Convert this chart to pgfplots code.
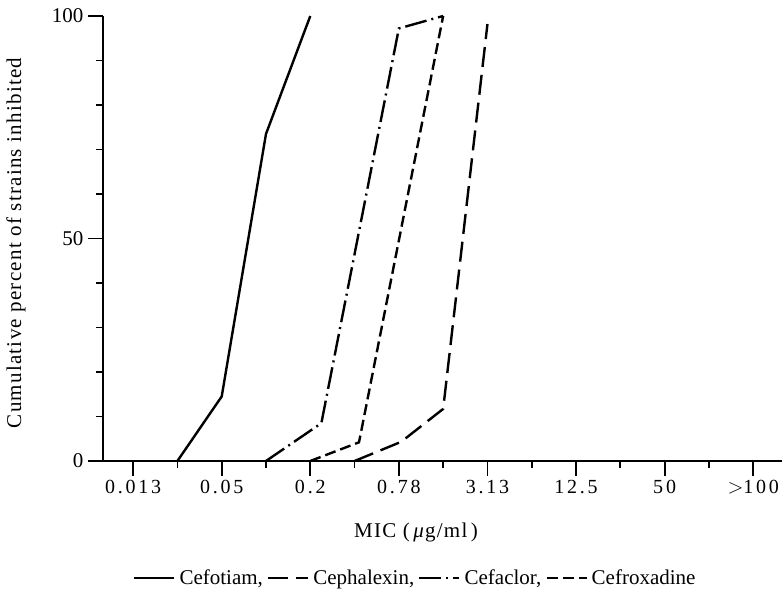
\documentclass[border=0pt]{standalone}
\usepackage{fontspec}
\setmainfont{Liberation Serif}
\newfontfamily\spaced[LetterSpace=14]{Liberation Serif}
\newfontfamily\labelfont[LetterSpace=6]{Liberation Serif}
\usepackage{pgfplots}
\pgfplotsset{compat=1.18}

\begin{document}
\begin{tikzpicture}
\path[use as bounding box] (0,0) rectangle (784pt,599pt);
\begin{axis}[
  at={(103pt,138pt)}, anchor=south west,
  width=679pt, height=445pt, scale only axis,
  xmin=-0.68, xmax=14.65, ymin=0, ymax=100,
  clip=false,
  axis x line=bottom, axis y line=left,
  axis line style={-, line width=2pt},
  % MIC dilution steps are plotted at 0,1,2,... (two-fold series)
  xtick={0,2,...,14},
  xticklabels={0.013,0.05,0.2,0.78,3.13,12.5,50,{$>$100}},
  minor xtick={1,3,...,13},
  ytick={0,50,100},
  minor ytick={10,20,30,40,60,70,80,90},
  tick align=outside,
  major tick length=15pt, minor tick length=7pt,
  every tick/.style={black, line width=1.8pt},
  x tick label style={font=\spaced\fontsize{20}{22}\selectfont, yshift=-1pt},
  y tick label style={font=\fontsize{21}{22}\selectfont, xshift=-1pt},
  /pgf/number format/assume math mode=true,
  every axis y label/.style={at={(axis description cs:-0.128,0.49)}, rotate=90, anchor=center},
  every axis x label/.style={at={(axis description cs:0.461,-0.16)}, anchor=center},
  label style={font=\labelfont\fontsize{21}{22}\selectfont},
  xlabel={MIC\ (\,\textit{μ}g/ml\,)},
  ylabel={Cumulative percent of strains inhibited},
  legend style={at={(axis description cs:0.46,-0.263)}, anchor=center,
    draw=none, fill=none, font=\fontsize{21}{22}\selectfont,
    legend columns=4, inner sep=0pt,
    /tikz/every odd column/.append style={column sep=2pt},
    /tikz/every even column/.append style={column sep=2pt}},
  legend image code/.code={\draw[#1] (0pt,0pt) -- (40pt,0pt);},
]
% Cefotiam
\addplot[black, line width=2.4pt] coordinates {(1,0) (2,14.5) (3,73.5) (4,100)};
\addlegendentry{Cefotiam,}
% Cephalexin
\addplot[black, line width=2.4pt, dash pattern=on 20pt off 8pt] coordinates {(5,0) (6.05,4.3) (7,11.7) (8,98.2)};
\addlegendentry{Cephalexin,}
% Cefaclor
\addplot[black, line width=2.4pt, dash pattern=on 22pt off 5pt on 2pt off 5pt] coordinates {(3,0) (4.25,8.5) (6,97.2) (7,100)};
\addlegendentry{Cefaclor,}
% Cefroxadine
\addplot[black, line width=2.4pt, dash pattern=on 11pt off 5pt] coordinates {(4,0) (5.1,4.2) (7,100)};
\addlegendentry{Cefroxadine}
\end{axis}
\end{tikzpicture}
\end{document}
